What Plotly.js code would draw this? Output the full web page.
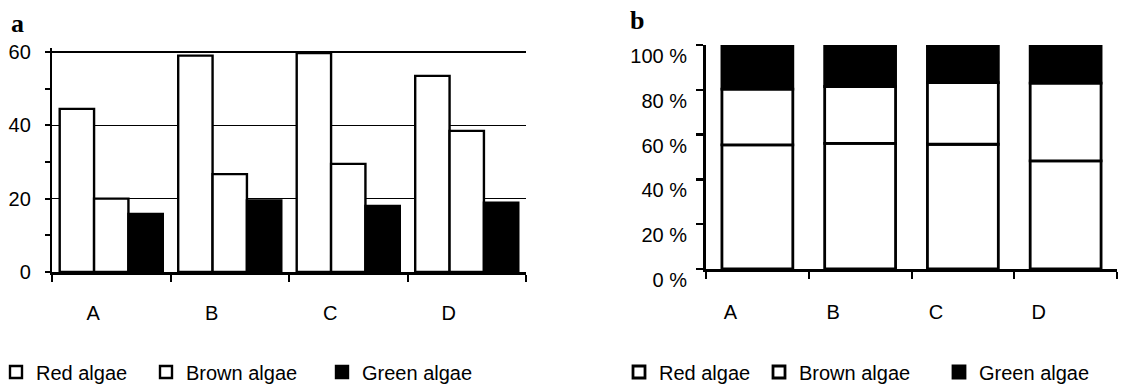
<!DOCTYPE html>
<html><head><meta charset="utf-8">
<script src="https://cdn.plot.ly/plotly-3.0.1.min.js"></script>
<style>html,body{margin:0;padding:0;background:#fff;}#chart{width:1134px;height:387px;}</style>
</head><body><div id="chart"></div>
<script>
// ---- data ----
const sites = ['A', 'B', 'C', 'D'];
const seriesNames = ['Red algae', 'Brown algae', 'Green algae'];
const redAlgae = [44.5, 59.0, 59.7, 53.5];
const brownAlgae = [20.0, 26.7, 29.5, 38.5];
const greenAlgae = [15.8, 19.5, 18.0, 18.9];
const yTicksA = [0, 20, 40, 60];
const yTicksB = [0, 20, 40, 60, 80, 100];
const panelLabels = ['a', 'b'];

// ---- derived percentages for panel b ----
const totals = sites.map((s, i) => redAlgae[i] + brownAlgae[i] + greenAlgae[i]);
const redPct = redAlgae.map((v, i) => v / totals[i] * 100);
const brownPct = brownAlgae.map((v, i) => v / totals[i] * 100);
const greenPct = greenAlgae.map((v, i) => v / totals[i] * 100);
const basePctBrown = redPct.slice();
const basePctGreen = redPct.map((v, i) => v + brownPct[i]);

const FONT = 'Liberation Sans, Arial, Helvetica, sans-serif';
const FS = 20;
const fills = ['#ffffff', '#ffffff', '#000000'];
const seriesA = [redAlgae, brownAlgae, greenAlgae];
const offsetsA = [-0.435, -0.145, 0.145];

const traces = [];
seriesA.forEach((vals, k) => {
  traces.push({
    type: 'bar', x: sites, y: vals, name: seriesNames[k],
    xaxis: 'x', yaxis: 'y', width: 0.29, offset: offsetsA[k],
    marker: {color: fills[k], line: {color: '#000', width: 2.4}},
    legend: ['legend', 'legend2', 'legend3'][k], hoverinfo: 'skip'
  });
});
const seriesB = [redPct, brownPct, greenPct];
const basesB = [sites.map(() => 0), basePctBrown, basePctGreen];
seriesB.forEach((vals, k) => {
  traces.push({
    type: 'bar', x: sites, y: vals, base: basesB[k], name: seriesNames[k],
    xaxis: 'x2', yaxis: 'y2', width: 0.69, offset: -0.345,
    marker: {color: fills[k], line: {color: '#000', width: 2.8}},
    legend: ['legend4', 'legend5', 'legend6'][k], hoverinfo: 'skip'
  });
});

const W = 1134, H = 387;
function legendAt(px) {
  return {orientation: 'h', x: px / W, y: 1 - 372 / H, xanchor: 'left', yanchor: 'middle',
    font: {family: FONT, size: FS, color: '#000'}, bgcolor: 'rgba(0,0,0,0)', borderwidth: 0};
}

const layout = {
  width: W, height: H,
  margin: {l: 0, r: 0, t: 0, b: 0, autoexpand: false},
  paper_bgcolor: '#fff', plot_bgcolor: 'rgba(0,0,0,0)',
  barmode: 'overlay',
  showlegend: true,
  font: {family: FONT, size: FS, color: '#000'},
  xaxis: {
    domain: [52 / W, 526 / W], anchor: 'y', type: 'category',
    showline: true, linecolor: '#000', linewidth: 2.5,
    ticks: 'outside', tickson: 'boundaries', ticklen: 7, tickwidth: 2, tickcolor: '#000',
    ticklabelstandoff: 21, ticklabelshift: -18, showgrid: false, zeroline: false,
    tickfont: {family: FONT, size: FS}
  },
  yaxis: {
    domain: [1 - 272 / H, 1 - 48.33 / H], anchor: 'x', range: [0, 61],
    tickvals: yTicksA, ticktext: yTicksA.map(String),
    showline: true, linecolor: '#000', linewidth: 2.2,
    ticks: 'outside', ticklen: 5, tickwidth: 2, tickcolor: '#000',
    minor: {dtick: 10, ticks: 'outside', ticklen: 5, tickwidth: 2, tickcolor: '#000', showgrid: false},
    showgrid: true, gridcolor: '#000', gridwidth: 1.5, zeroline: false,
    ticklabelstandoff: 10, tickfont: {family: FONT, size: FS}
  },
  xaxis2: {
    domain: [706 / W, 1117 / W], anchor: 'y2', type: 'category',
    showline: true, linecolor: '#000', linewidth: 3,
    ticks: 'outside', tickson: 'boundaries', ticklen: 7, tickwidth: 2, tickcolor: '#000',
    ticklabelstandoff: 23, ticklabelshift: -27, showgrid: false, zeroline: false,
    tickfont: {family: FONT, size: FS}
  },
  yaxis2: {
    domain: [1 - 269 / H, 1 - 45 / H], anchor: 'x2', range: [0, 100],
    tickvals: yTicksB, ticktext: yTicksB.map(v => v + ' %'),
    showline: true, linecolor: '#000', linewidth: 3,
    ticks: 'outside', ticklen: 7, tickwidth: 2.5, tickcolor: '#000',
    showgrid: false, zeroline: false,
    ticklabelstandoff: 5, ticklabelshift: 11, tickfont: {family: FONT, size: FS}
  },
  legend: legendAt(-4), legend2: legendAt(146), legend3: legendAt(322),
  legend4: legendAt(619), legend5: legendAt(759), legend6: legendAt(939),
  annotations: [
    {text: '<b>' + panelLabels[0] + '</b>', xref: 'paper', yref: 'paper', x: 9 / W, y: 1 - 23 / H,
     xanchor: 'left', yanchor: 'middle', showarrow: false,
     font: {family: 'Liberation Serif, Times New Roman, serif', size: 26, color: '#000'}},
    {text: '<b>' + panelLabels[1] + '</b>', xref: 'paper', yref: 'paper', x: 628 / W, y: 1 - 20 / H,
     xanchor: 'left', yanchor: 'middle', showarrow: false,
     font: {family: 'Liberation Serif, Times New Roman, serif', size: 26, color: '#000'}}
  ]
};

Plotly.newPlot('chart', traces, layout, {staticPlot: true, displayModeBar: false});
</script></body></html>
